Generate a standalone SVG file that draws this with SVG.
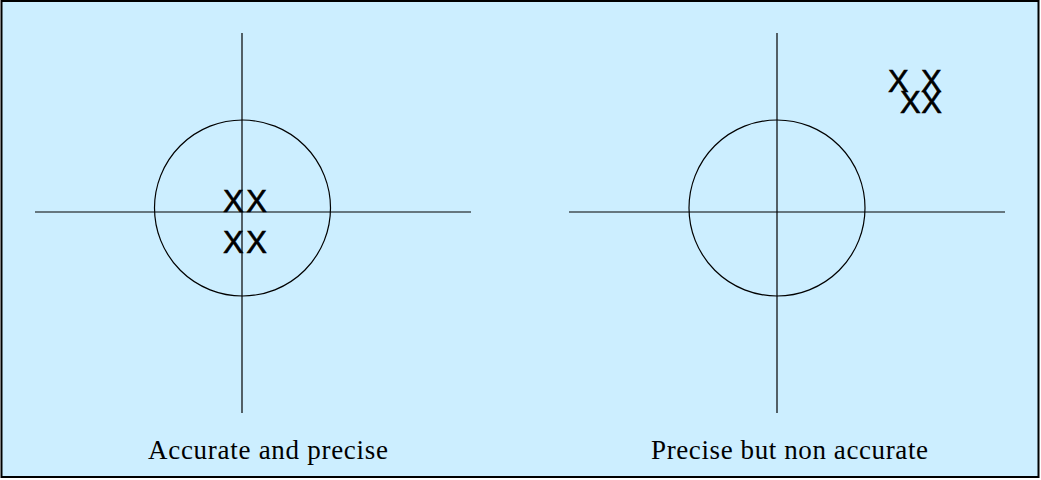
<svg xmlns="http://www.w3.org/2000/svg" width="1041" height="480" viewBox="0 0 1041 480">
<style>
.ax{stroke:#000;stroke-width:1.2;fill:none}
.x{font-family:"Liberation Sans",Arial,sans-serif;font-size:31px;fill:#000;stroke:#000;stroke-width:0.6}
.lbl{font-family:"Liberation Serif","Times New Roman",serif;font-size:27px;fill:#000}
</style>
<rect x="1.5" y="1" width="1037" height="476" fill="#CCEEFF" stroke="#000" stroke-width="2"/>
<g id="left">
<circle class="ax" cx="242.5" cy="208" r="88"/>
<line class="ax" x1="35" y1="212" x2="471" y2="212"/>
<line class="ax" x1="242" y1="33" x2="242" y2="413"/>
<text class="x" x="223" y="212" textLength="44">XX</text>
<text class="x" x="223" y="253" textLength="44">XX</text>
<text class="lbl" x="148" y="459" textLength="240">Accurate and precise</text>
</g>
<g id="right">
<circle class="ax" cx="777" cy="208" r="88"/>
<line class="ax" x1="569" y1="212" x2="1005" y2="212"/>
<line class="ax" x1="777" y1="33" x2="777" y2="413"/>
<text class="x" x="888 909 921" y="92">X X</text>
<text class="x" x="900" y="113" textLength="42">XX</text>
<text class="lbl" x="651" y="459" textLength="277">Precise but non accurate</text>
</g>
</svg>
